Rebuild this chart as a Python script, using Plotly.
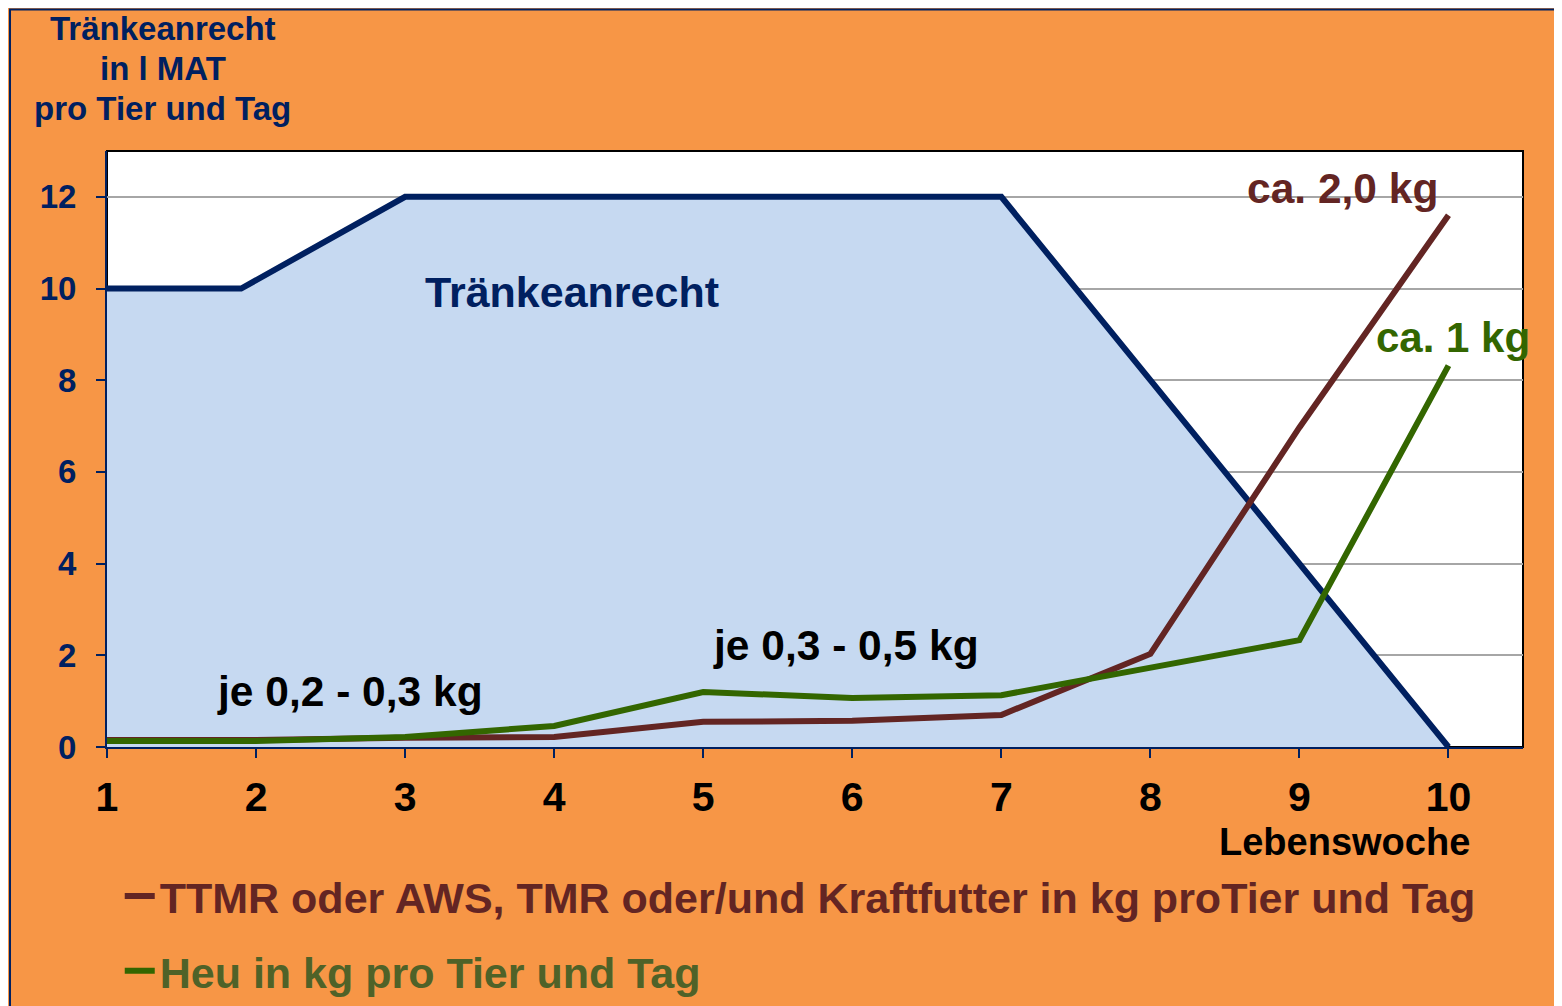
import plotly.graph_objects as go

# Lebenswoche
weeks = [1, 2, 3, 4, 5, 6, 7, 8, 9, 10]
traenke_x = [1, 1.9, 3, 4, 5, 6, 7, 8, 9, 10]
traenke_y = [10, 10, 12, 12, 12, 12, 12, 8, 4, 0]
ttmr = [0.15, 0.15, 0.2, 0.22, 0.55, 0.57, 0.7, 2.03, 6.97, 11.6]
heu = [0.13, 0.13, 0.22, 0.46, 1.2, 1.07, 1.13, 1.74, 2.33, 8.32]
y_ticks = [0, 2, 4, 6, 8, 10, 12]

NAVY = '#002060'
BROWN = '#632523'
GREEN = '#336600'
ORANGE = '#F79646'
FONT = 'Liberation Sans, Arial, sans-serif'

fig = go.Figure()

fig.add_trace(go.Scatter(
    x=traenke_x, y=traenke_y, mode='lines', fill='tozeroy',
    fillcolor='#C6D9F1', line=dict(color=NAVY, width=6),
    showlegend=False,
))
fig.add_trace(go.Scatter(
    x=weeks, y=ttmr, mode='lines', line=dict(color=BROWN, width=6),
    name='<span style="color:#632523">TTMR oder AWS, TMR oder/und Kraftfutter in kg proTier und Tag</span>',
    legendgroup='a',
))
fig.add_trace(go.Scatter(
    x=weeks, y=heu, mode='lines', line=dict(color=GREEN, width=6),
    name='<span style="color:#4F6228">Heu in kg pro Tier und Tag</span>',
    legendgroup='b',
))

annos = [
    dict(text='Tränkeanrecht', x=0.0395, y=1.206, font=dict(size=33, color=NAVY)),
    dict(text='in l MAT', x=0.0395, y=1.139, font=dict(size=33, color=NAVY)),
    dict(text='pro Tier und Tag', x=0.0395, y=1.072, font=dict(size=33, color=NAVY)),
    dict(text='Tränkeanrecht', x=4.12, y=9.93, xref='x', yref='y',
         font=dict(size=43, color=NAVY)),
    dict(text='je 0,2 - 0,3 kg', x=2.63, y=1.22, xref='x', yref='y',
         font=dict(size=42.5, color='black')),
    dict(text='je 0,3 - 0,5 kg', x=5.96, y=2.22, xref='x', yref='y',
         font=dict(size=42.5, color='black')),
    dict(text='ca. 2,0 kg', x=9.29, y=12.18, xref='x', yref='y',
         font=dict(size=42.5, color=BROWN)),
    dict(text='ca. 1 kg', x=10.03, y=8.93, xref='x', yref='y',
         font=dict(size=42, color=GREEN)),
    dict(text='Lebenswoche', x=0.874, y=-0.160, font=dict(size=38, color='black')),
]
for a in annos:
    a.setdefault('xref', 'paper')
    a.setdefault('yref', 'paper')
    a['font'] = dict(family=FONT, weight='bold', **a['font'])
    fig.add_annotation(showarrow=False, xanchor='center', yanchor='middle', **a)

# Rahmen
fig.add_shape(type='rect', xref='paper', yref='paper', x0=-0.0685, x1=1.2,
              y0=-0.5, y1=1.2375, line=dict(color=NAVY, width=2), layer='below')
fig.add_shape(type='rect', xref='paper', yref='paper', x0=0, x1=1, y0=0, y1=1,
              line=dict(color='black', width=2), layer='below')

fig.update_xaxes(
    range=[1, 10.5], tickvals=weeks, showgrid=False, zeroline=False,
    showline=True, linecolor=NAVY, linewidth=2,
    ticks='outside', ticklen=9, tickcolor=NAVY, tickwidth=2, ticklabelstandoff=4,
    tickfont=dict(family=FONT, size=41, color='black', weight='bold'),
)
fig.update_yaxes(
    range=[0, 13], tickvals=y_ticks, showgrid=True, gridcolor='#A6A6A6', gridwidth=1.5,
    zeroline=False, showline=True, linecolor=NAVY, linewidth=2,
    ticks='outside', ticklen=9, tickcolor=NAVY, tickwidth=2, ticklabelstandoff=13,
    tickfont=dict(family=FONT, size=33, color=NAVY, weight='bold'),
)

fig.update_layout(
    width=1554, height=998, autosize=False,
    margin=dict(l=99, r=39, t=143, b=259, autoexpand=False),
    paper_bgcolor=ORANGE, plot_bgcolor='white',
    legend=dict(x=0.009, y=-0.192, xanchor='left', yanchor='top',
                font=dict(family=FONT, size=43, weight='bold'),
                bgcolor='rgba(0,0,0,0)', tracegroupgap=16, traceorder='grouped',
                itemwidth=30),
)

fig.write_html("out.html")
